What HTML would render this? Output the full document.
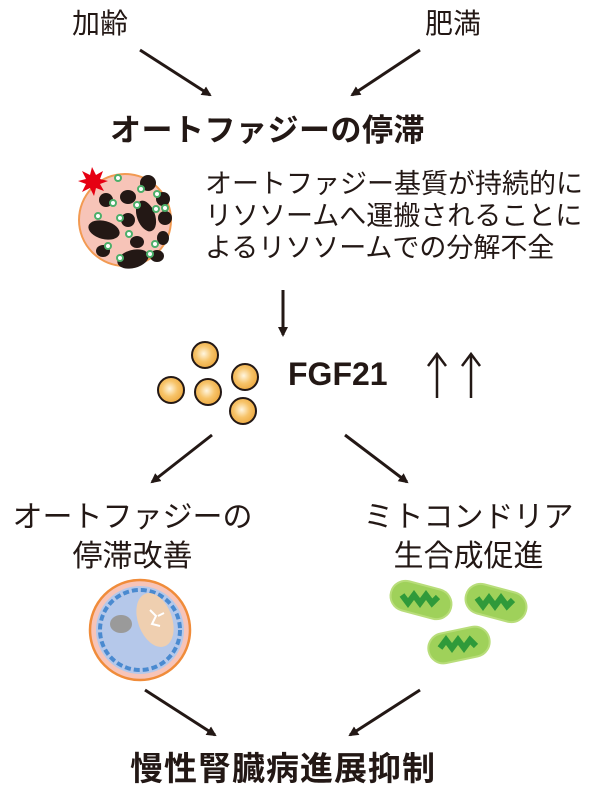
<!DOCTYPE html>
<html><head><meta charset="utf-8"><style>
body{margin:0;width:600px;height:795px;background:#fff;overflow:hidden;position:relative;font-family:"Liberation Sans","Noto Sans CJK JP",sans-serif;color:#231815}
.t{position:absolute;white-space:nowrap;line-height:1}
</style></head><body>
<svg width="600" height="795" style="position:absolute;left:0;top:0">
<defs>
<marker id="a" markerWidth="10" markerHeight="10" refX="8" refY="5" orient="auto" markerUnits="userSpaceOnUse"><path d="M0,0 L10,5 L0,10 z" fill="#231815"/></marker>
<radialGradient id="g" cx="0.45" cy="0.45" r="0.6"><stop offset="0" stop-color="#fff6e0"/><stop offset="0.5" stop-color="#f7c46a"/><stop offset="1" stop-color="#eba53a"/></radialGradient>
</defs>
<g stroke="#231815" stroke-width="3" fill="none">
<line x1="140" y1="50" x2="210" y2="95" marker-end="url(#a)"/>
<line x1="420" y1="50" x2="352" y2="95" marker-end="url(#a)"/>
<line x1="283" y1="290" x2="283" y2="335" marker-end="url(#a)"/>
<line x1="212" y1="435" x2="152" y2="482" marker-end="url(#a)"/>
<line x1="345" y1="435" x2="407" y2="482" marker-end="url(#a)"/>
<line x1="145" y1="690" x2="215" y2="735" marker-end="url(#a)"/>
<line x1="420" y1="690" x2="350" y2="735" marker-end="url(#a)"/>
<line x1="437" y1="398" x2="437" y2="356" stroke-width="2.5"/>
<path d="M428,366 L437,354 L446,366" stroke-width="2.5"/>
<line x1="471" y1="398" x2="471" y2="356" stroke-width="2.5"/>
<path d="M462,366 L471,354 L480,366" stroke-width="2.5"/>
</g>
<!-- lysosome 1 -->
<circle cx="125" cy="220" r="46" fill="#f7c4b8" stroke="#f29a52" stroke-width="2"/>
<g fill="#231815">
<ellipse cx="148" cy="183" rx="8" ry="8"/><ellipse cx="128" cy="197" rx="8" ry="7"/><ellipse cx="106" cy="200" rx="7" ry="7"/>
<ellipse cx="163" cy="199" rx="7" ry="7"/><ellipse cx="128" cy="220" rx="7" ry="7"/><ellipse cx="146" cy="216" rx="9" ry="16" transform="rotate(-20 146 216)"/>
<ellipse cx="104" cy="230" rx="16" ry="9" transform="rotate(15 104 230)"/><ellipse cx="165" cy="218" rx="7" ry="7"/>
<ellipse cx="137" cy="242" rx="7" ry="6"/><ellipse cx="163" cy="238" rx="6" ry="7"/><ellipse cx="103" cy="251" rx="7" ry="6"/>
<ellipse cx="133" cy="259" rx="16" ry="9" transform="rotate(-15 133 259)"/><ellipse cx="157" cy="256" rx="7" ry="6"/>
</g>
<g fill="#fff" stroke="#4caf6a" stroke-width="2">
<circle cx="118" cy="178" r="3"/><circle cx="141" cy="189" r="3"/><circle cx="113" cy="203" r="3"/><circle cx="137" cy="205" r="3"/>
<circle cx="157" cy="194" r="3"/><circle cx="165" cy="208" r="3"/><circle cx="98" cy="216" r="3"/><circle cx="120" cy="218" r="3"/>
<circle cx="156" cy="209" r="3"/><circle cx="129" cy="234" r="3"/><circle cx="155" cy="244" r="3"/><circle cx="108" cy="246" r="3"/><circle cx="120" cy="258" r="3"/><circle cx="150" cy="254" r="3"/>
</g>
<polygon points="92,167 96,175 103,171 100,179 108,181 100,184 104,191 96,188 94,196 90,188 82,192 86,184 78,181 86,179 82,171 90,175" fill="#e60012"/>
<!-- FGF21 -->
<g fill="url(#g)" stroke="#231815" stroke-width="2">
<circle cx="205" cy="355" r="13"/><circle cx="171" cy="390" r="13"/><circle cx="208" cy="392" r="13"/><circle cx="245" cy="377" r="13"/><circle cx="243" cy="411" r="13"/>
</g>
<!-- lysosome 2 -->
<circle cx="140" cy="630" r="50" fill="#f7c4b8" stroke="#f08c3a" stroke-width="2.5"/>
<circle cx="140" cy="630" r="44" fill="#b5c8ea"/>
<circle cx="140" cy="630" r="40" fill="none" stroke="#4a8ad0" stroke-width="4" stroke-dasharray="6 3"/>
<ellipse cx="155" cy="620" rx="17" ry="28" transform="rotate(-20 155 620)" fill="#efcfb0"/>
<path d="M150,610 l6,6 l-4,8 l8,2 M158,616 l6,-3" stroke="#fff" stroke-width="2" fill="none"/>
<ellipse cx="121" cy="624" rx="11" ry="9" fill="#9a9a9a"/>
<!-- mitochondria -->
<g fill="#9fd15a" stroke="#b8dd7a" stroke-width="2">
<rect x="390" y="585" width="62" height="30" rx="15" transform="rotate(15 421 600)"/>
<rect x="465" y="588" width="62" height="30" rx="15" transform="rotate(15 496 603)"/>
<rect x="428" y="630" width="62" height="30" rx="15" transform="rotate(-12 459 645)"/>
</g>
<g fill="none" stroke="#2f9a3a" stroke-width="6">
<path d="M402,595 l6,8 l6,-8 l6,8 l6,-8 l6,8 l6,-6"/>
<path d="M477,598 l6,8 l6,-8 l6,8 l6,-8 l6,8 l6,-6"/>
<path d="M440,648 l6,-8 l6,8 l6,-8 l6,8 l6,-8 l6,6"/>
</g>
</svg>
<div class="t" style="left:72px;top:10px;font-size:28px">加齢</div>
<div class="t" style="left:425px;top:10px;font-size:28px">肥満</div>
<div class="t" style="left:110px;top:115px;font-size:31px;font-weight:bold;letter-spacing:0.5px">オートファジーの停滞</div>
<div class="t" style="left:205px;top:168px;font-size:27px;line-height:32px">オートファジー基質が持続的に<br>リソソームへ運搬されることに<br>よるリソソームでの分解不全</div>
<div class="t" style="left:288px;top:358px;font-size:32px;font-weight:bold">FGF21</div>
<div class="t" style="left:10px;top:498px;font-size:30px;line-height:39px;text-align:center;width:245px">オートファジーの<br>停滞改善</div>
<div class="t" style="left:362px;top:498px;font-size:30px;line-height:39px;text-align:center;width:213px">ミトコンドリア<br>生合成促進</div>
<div class="t" style="left:130px;top:752px;font-size:33px;font-weight:bold;letter-spacing:1px">慢性腎臓病進展抑制</div>
</body></html>
